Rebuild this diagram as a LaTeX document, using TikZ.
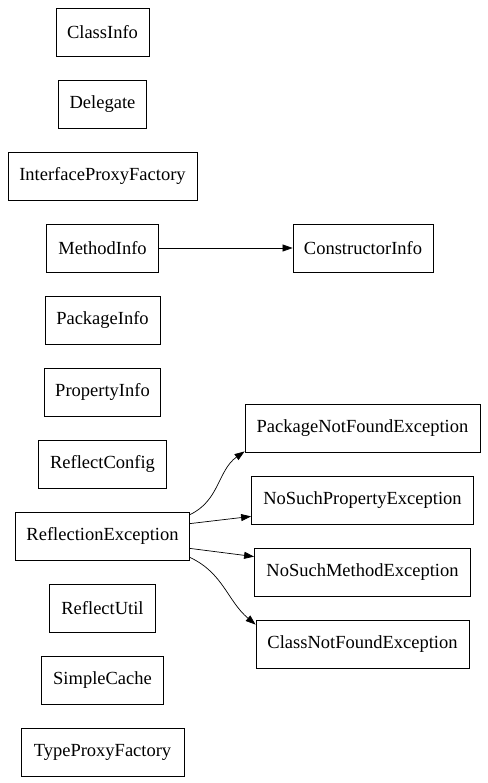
\documentclass[tikz,border=0pt]{standalone}
\usepackage{fontspec}
\setmainfont{Liberation Serif}
\usetikzlibrary{arrows.meta}

\begin{document}
\begin{tikzpicture}[x=1pt,y=-1pt]
    % Define box and edge styles
    \tikzset{box/.style={draw,line width=0.8pt,minimum height=48pt,inner sep=0pt,font=\fontsize{18.5}{22}\selectfont},
             dep/.style={-{Triangle[length=10pt,width=7pt]},line width=0.7pt}}

    \useasboundingbox (0,0) rectangle (487,783); % Fix the page size

    % Draw the left column of classes
    \foreach \name/\w [count=\i] in {ClassInfo/93,Delegate/88,InterfaceProxyFactory/189,MethodInfo/112,PackageInfo/115,PropertyInfo/116,ReflectConfig/128,ReflectionException/174,ReflectUtil/106,SimpleCache/122,TypeProxyFactory/163}
    {
        \node[box,minimum width=\w pt] (\name) at (102.5,{72*\i-40}) {\name};
    }

    % Draw the right column of classes
    \node[box,minimum width=140pt] (ConstructorInfo) at (363,248) {ConstructorInfo};
    \foreach \name/\w/\y in {PackageNotFoundException/235/428,NoSuchPropertyException/222/500,NoSuchMethodException/216/572,ClassNotFoundException/213/644}
    {
        \node[box,minimum width=\w pt] (\name) at (362.5,\y) {\name};
    }

    % Draw the dependencies
    \draw[dep] (MethodInfo) -- (ConstructorInfo);
    \draw[dep] ([yshift=-3pt]ReflectionException.north east) to[out=25,in=215] ([yshift=1pt]PackageNotFoundException.south west);
    \draw[dep] ([yshift=-12pt]ReflectionException.north east) -- ([yshift=8pt]NoSuchPropertyException.south west);
    \draw[dep] ([yshift=12pt]ReflectionException.south east) -- ([yshift=-9pt]NoSuchMethodException.north west);
    \draw[dep] ([yshift=3pt]ReflectionException.south east) to[out=-25,in=140] ([yshift=-5pt]ClassNotFoundException.north west);
\end{tikzpicture}
\end{document}
